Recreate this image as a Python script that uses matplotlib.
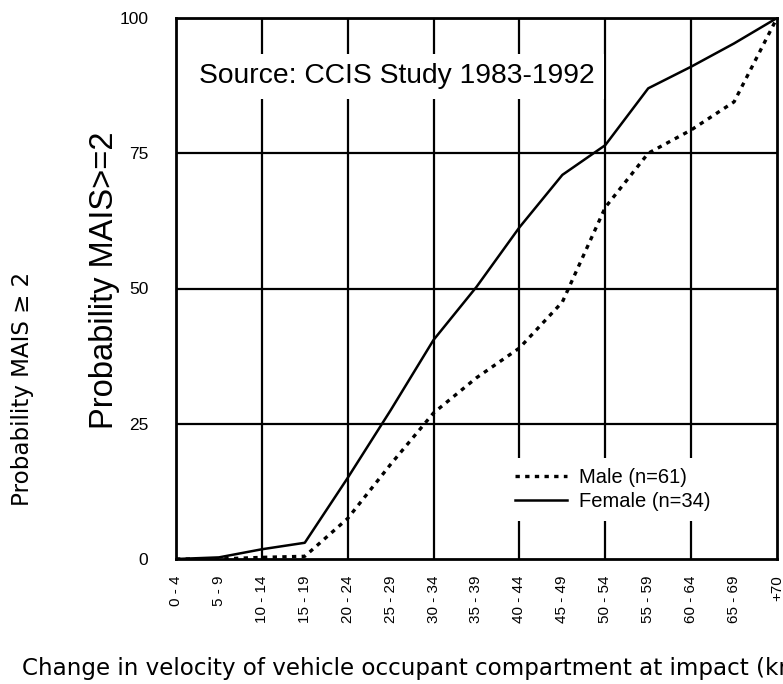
import matplotlib
matplotlib.use("Agg")
import matplotlib.pyplot as plt

categories = ["0 - 4", "5 - 9", "10 - 14", "15 - 19", "20 - 24", "25 - 29", "30 - 34",
              "35 - 39", "40 - 44", "45 - 49", "50 - 54", "55 - 59", "60 - 64", "65 - 69", "+70"]
female = [0, 0.3, 1.8, 3.0, 15.0, 27.5, 40.5, 50.3, 61.3, 71.0, 76.5, 87.0, 91.0, 95.3, 100]
male = [0, 0, 0.3, 0.5, 7.5, 17.5, 27.0, 33.5, 39.0, 47.5, 65.0, 75.0, 79.3, 84.5, 100]
y_ticks = [0, 25, 50, 75, 100]
grid_x = ["10 - 14", "20 - 24", "30 - 34", "40 - 44", "50 - 54", "60 - 64"]

W, H = 783, 684
fig = plt.figure(figsize=(W / 100, H / 100), dpi=100)
ax = fig.add_axes([176 / W, 1 - 559 / H, (777 - 176) / W, (559 - 18) / H])

x = list(range(len(categories)))
ax.plot(x, male, color="black", lw=2.4, linestyle=(0, (1.3, 1.6)), label="Male (n=61)", zorder=3)
ax.plot(x, female, color="black", lw=1.8, linestyle="-", label="Female (n=34)", zorder=3)

ax.set_xlim(0, len(categories) - 1)
ax.set_ylim(0, 100)
ax.set_xticks(x)
ax.set_xticklabels(categories, rotation=90, fontsize=11, family="Liberation Sans")
ax.set_yticks(y_ticks)
ax.set_yticklabels([str(v) for v in y_ticks], fontsize=12.5, family="Liberation Sans")
ax.tick_params(axis="both", length=0)
ax.tick_params(axis="y", pad=20)
ax.tick_params(axis="x", pad=12)

for v in (25, 50, 75, 100):
    ax.axhline(v, color="black", lw=1.6, zorder=1)
for c in grid_x:
    ax.axvline(categories.index(c), color="black", lw=1.6, zorder=1)
for s in ax.spines.values():
    s.set_linewidth(2.0)

ax.text(0.038, 0.892, "Source: CCIS Study 1983-1992", transform=ax.transAxes,
        fontsize=20.3, family="Liberation Sans", va="center", ha="left", zorder=4,
        bbox=dict(facecolor="white", edgecolor="none", pad=7))

leg = ax.legend(loc="upper left", bbox_to_anchor=(0.53, 0.205),
                prop={"family": "Liberation Sans", "size": 14.5},
                frameon=True, fancybox=False, framealpha=1, edgecolor="none",
                handlelength=2.6, handletextpad=0.6, labelspacing=0.25, borderpad=0.5)
leg.set_zorder(5)

fig.text(105 / W, 1 - 280 / H, "Probability MAIS>=2", rotation=90, fontsize=23.5,
         family="Liberation Sans", ha="center", va="center")
fig.text(23 / W, 1 - 389 / H, "Probability MAIS \u2265 2", rotation=90, fontsize=16.6,
         family="DejaVu Sans", ha="center", va="center")
fig.text(22 / W, 1 - 675 / H,
         "Change in velocity of vehicle occupant compartment at impact (km/h)",
         fontsize=16.6, family="DejaVu Sans", ha="left", va="baseline")

fig.savefig("out.png", dpi=100)
